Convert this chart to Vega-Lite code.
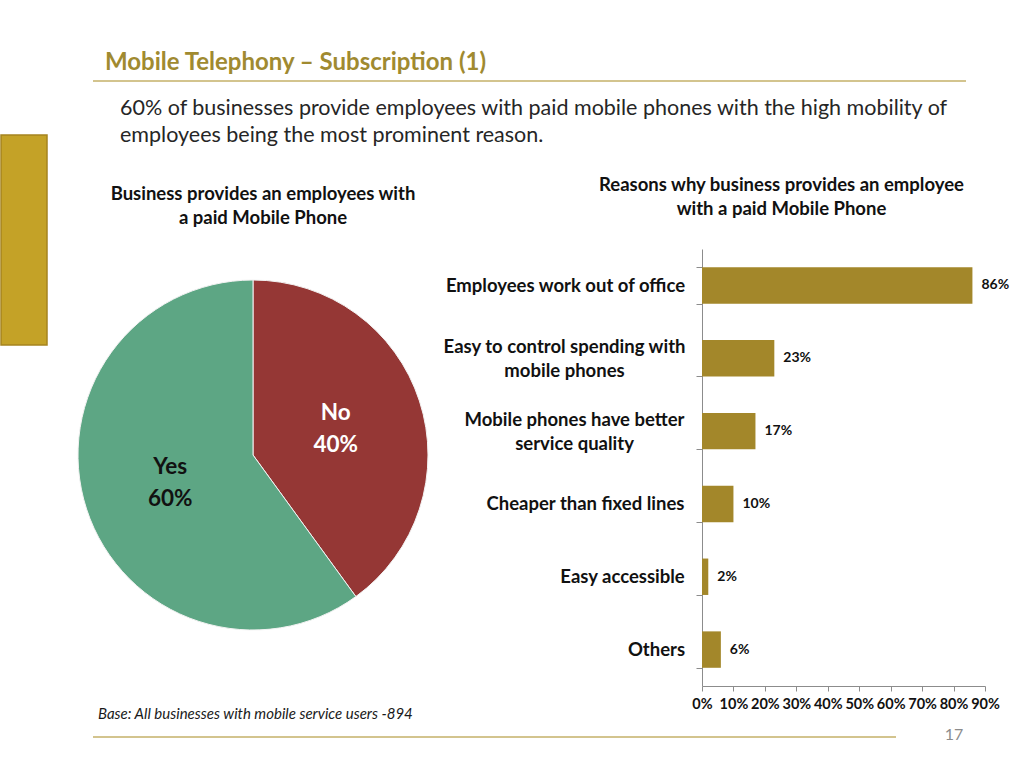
{
  "$schema": "https://vega.github.io/schema/vega-lite/v6.json",
  "padding": {"left": 0, "top": 51, "right": 0, "bottom": 0},
  "background": "white",
  "config": {
    "font": "Lato",
    "view": {"stroke": null},
    "axis": {"grid": false},
    "title": {"font": "Lato"}
  },
  "bounds": "flush",
  "align": "none",
  "spacing": 92,
  "hconcat": [
    {
      "bounds": "flush",
      "align": "none",
      "spacing": 54,
      "vconcat": [
        {
          "width": 46, "height": 1,
          "data": {"values": [{}]},
          "mark": {"type": "text", "text": ""},
          "encoding": {}
        },
        {
          "width": 46, "height": 210,
          "view": {"fill": "#C4A227", "stroke": "#A5841F", "strokeWidth": 1.5},
          "data": {"values": [{}]},
          "mark": {"type": "text", "text": ""},
          "encoding": {}
        }
      ]
    },
    {
      "bounds": "flush",
      "align": "none",
      "spacing": 168,
      "vconcat": [
        {
          "width": 873, "height": 1,
          "title": {
            "text": "Mobile Telephony – Subscription (1)",
            "anchor": "start", "dx": 13, "offset": 5,
            "fontSize": 24, "fontWeight": "bold", "color": "#A08A30"
          },
          "data": {"values": [{}]},
          "mark": {"type": "rule", "color": "#D3C48E", "strokeWidth": 2},
          "encoding": {
            "y": {"datum": 0, "type": "quantitative", "scale": {"domain": [0, 1]}, "axis": null}
          }
        },
        {
          "bounds": "flush",
          "align": "none",
          "spacing": 487,
          "vconcat": [
            {
              "title": {
                "text": [
                  "60% of businesses provide employees with paid mobile phones with the high mobility of",
                  "employees being the most prominent reason."
                ],
                "anchor": "start", "frame": "group", "dx": 27, "offset": 29,
                "fontSize": 21.5, "fontWeight": "normal", "color": "#262626", "lineHeight": 27
              },
              "bounds": "flush",
              "align": "none",
              "spacing": 289,
              "hconcat": [
                {
                  "width": 320, "height": 412,
                  "title": {
                    "text": ["Business provides an employees with", "a paid Mobile Phone"],
                    "anchor": "middle", "dx": 10, "offset": 22,
                    "fontSize": 18.5, "fontWeight": "bold", "color": "#111111", "lineHeight": 24
                  },
                  "data": {
                    "values": [
                      {"answer": "No", "share": 0.4, "ord": 1},
                      {"answer": "Yes", "share": 0.6, "ord": 2}
                    ]
                  },
                  "encoding": {
                    "theta": {"field": "share", "type": "quantitative", "stack": true},
                    "order": {"field": "ord", "type": "quantitative"}
                  },
                  "layer": [
                    {
                      "mark": {"type": "arc", "outerRadius": 175, "stroke": "#F2F2F2", "strokeWidth": 1},
                      "encoding": {
                        "color": {
                          "field": "answer", "type": "nominal",
                          "scale": {"domain": ["No", "Yes"], "range": ["#953735", "#5DA684"]},
                          "legend": null
                        }
                      }
                    },
                    {
                      "mark": {"type": "text", "radius": 87, "dy": -15, "fontSize": 22.5, "fontWeight": "bold"},
                      "encoding": {
                        "text": {"field": "answer", "type": "nominal"},
                        "color": {"condition": {"test": "datum.answer === 'No'", "value": "#FFFFFF"}, "value": "#111111"}
                      }
                    },
                    {
                      "mark": {"type": "text", "radius": 87, "dy": 17, "fontSize": 22.5, "fontWeight": "bold"},
                      "encoding": {
                        "text": {"field": "share", "type": "quantitative", "format": ".0%"},
                        "color": {"condition": {"test": "datum.answer === 'No'", "value": "#FFFFFF"}, "value": "#111111"}
                      }
                    }
                  ]
                },
                {
                  "width": 283, "height": 437,
                  "title": {
                    "text": ["Reasons why business provides an employee", "with a paid Mobile Phone"],
                    "anchor": "middle", "dx": -62, "offset": 22,
                    "fontSize": 18.5, "fontWeight": "bold", "color": "#111111", "lineHeight": 24
                  },
                  "data": {
                    "values": [
                      {"reason": "Employees work out of office", "pct": 0.86},
                      {"reason": "Easy to control spending with mobile phones", "pct": 0.23},
                      {"reason": "Mobile phones have better service quality", "pct": 0.17},
                      {"reason": "Cheaper than fixed lines", "pct": 0.10},
                      {"reason": "Easy accessible", "pct": 0.02},
                      {"reason": "Others", "pct": 0.06}
                    ]
                  },
                  "encoding": {
                    "y": {
                      "field": "reason", "type": "nominal", "sort": null,
                      "scale": {"paddingInner": 0.5, "paddingOuter": 0.25},
                      "axis": {
                        "title": null,
                        "labelExpr": "datum.label == 'Easy to control spending with mobile phones' ? ['Easy to control spending with', 'mobile phones'] : datum.label == 'Mobile phones have better service quality' ? ['Mobile phones have better', 'service quality'] : datum.label",
                        "labelFontSize": 18.5, "labelFontWeight": "bold", "labelColor": "#111111",
                        "labelAlign": "center",
                        "labelPadding": {"expr": "datum.value == 'Employees work out of office' ? 131 : datum.value == 'Easy to control spending with mobile phones' ? 132 : datum.value == 'Mobile phones have better service quality' ? 122 : datum.value == 'Cheaper than fixed lines' ? 111 : datum.value == 'Easy accessible' ? 74 : 40"},
                        "labelOffset": {"expr": "datum.value == 'Easy to control spending with mobile phones' || datum.value == 'Mobile phones have better service quality' ? -12 : 0"},
                        "labelLimit": 0, "labelLineHeight": 24,
                        "tickSize": 6, "tickBand": "extent",
                        "domainColor": "#8C8C8C", "tickColor": "#8C8C8C"
                      }
                    },
                    "x": {
                      "field": "pct", "type": "quantitative",
                      "scale": {"domain": [0, 0.9]},
                      "axis": {
                        "title": null,
                        "values": [0, 0.1, 0.2, 0.3, 0.4, 0.5, 0.6, 0.7, 0.8, 0.9],
                        "format": ".0%",
                        "labelFontSize": 14.5, "labelFontWeight": "bold", "labelColor": "#111111",
                        "labelFlush": false, "labelOverlap": false,
                        "tickSize": 5, "labelPadding": 6,
                        "domainColor": "#8C8C8C", "tickColor": "#8C8C8C"
                      }
                    }
                  },
                  "layer": [
                    {"mark": {"type": "bar", "color": "#A3872A"}},
                    {
                      "mark": {"type": "text", "align": "left", "baseline": "middle", "dx": 9, "fontSize": 14, "fontWeight": "bold", "color": "#111111"},
                      "encoding": {"text": {"field": "pct", "type": "quantitative", "format": ".0%"}}
                    }
                  ]
                }
              ]
            },
            {
              "bounds": "flush",
              "align": "none",
              "spacing": 48,
              "hconcat": [
                {
                  "width": 803, "height": 1,
                  "title": {
                    "text": "Base: All businesses with mobile service users -894",
                    "anchor": "start", "dx": 6, "offset": 14,
                    "fontSize": 15, "fontStyle": "italic", "fontWeight": "normal", "color": "#1A1A1A"
                  },
                  "data": {"values": [{}]},
                  "mark": {"type": "rule", "color": "#D3C48E", "strokeWidth": 2},
                  "encoding": {
                    "y": {"datum": 0, "type": "quantitative", "scale": {"domain": [0, 1]}, "axis": null}
                  }
                },
                {
                  "width": 20, "height": 1,
                  "data": {"values": [{"page": "17"}]},
                  "mark": {"type": "text", "fontSize": 16, "color": "#8C8C8C", "dy": -2},
                  "encoding": {"text": {"field": "page", "type": "nominal"}}
                }
              ]
            }
          ]
        }
      ]
    }
  ]
}
